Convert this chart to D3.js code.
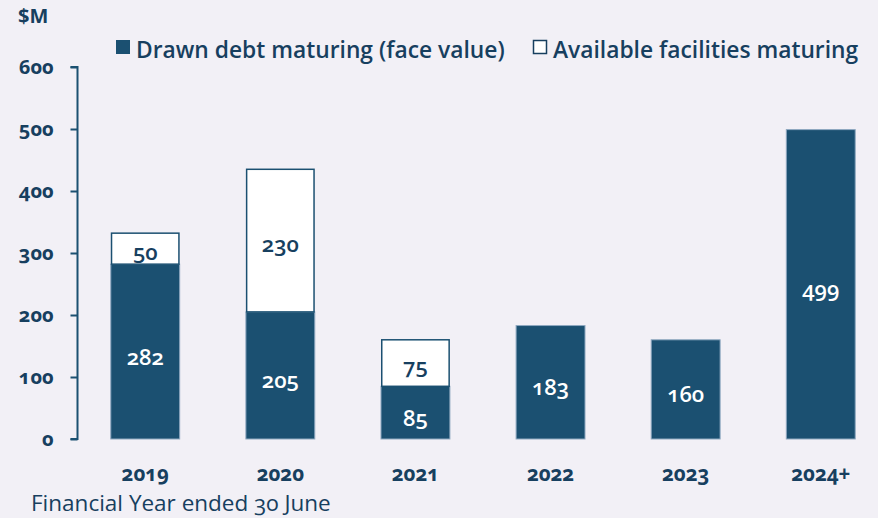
<!DOCTYPE html>
<html>
<head>
<meta charset="utf-8">
<script src="https://cdn.jsdelivr.net/npm/d3@7"></script>
<style>
  body { margin: 0; background: #f2f0f6; }
  svg { display: block; font-family: "Open Sans", sans-serif; font-variant-numeric: oldstyle-nums; }
</style>
</head>
<body>
<svg id="drawing_region"></svg>
<script>
const years = ["2019", "2020", "2021", "2022", "2023", "2024+"];
const drawn = [282, 205, 85, 183, 160, 499];
const available = [50, 230, 75, 0, 0, 0];
const yTicks = [0, 100, 200, 300, 400, 500, 600];
const seriesNames = ["Drawn debt maturing (face value)", "Available facilities maturing"];

const W = 878, H = 518;
const navy = "#173f5f", barColor = "#1b5071";

const svg = d3.select("#drawing_region").attr("width", W).attr("height", H);

const x = d3.scaleBand().domain(years).range([77, 889])
    .paddingInner(0.49).paddingOuter(0.25);
const y = d3.scaleLinear().domain([0, 600]).range([439, 67]);

// y axis
const yaxis = d3.axisLeft(y).tickValues(yTicks).tickSize(7).tickPadding(17);
const yg = svg.append("g").attr("transform", "translate(77.5,0)").call(yaxis);
yg.select(".domain").attr("stroke", barColor).attr("stroke-width", 2)
    .attr("d", `M-7,${y(600)}H0V${y(0)}H-7`);
yg.selectAll(".tick line").attr("stroke", barColor).attr("stroke-width", 2);
yg.selectAll(".tick text").attr("fill", navy).attr("font-size", 20)
    .attr("font-weight", 700).attr("font-family", "Open Sans, sans-serif");

svg.append("text").attr("x", 18).attr("y", 23).attr("fill", navy)
    .attr("font-size", 20).attr("font-weight", 700).text("$M");

// bars
const g = svg.append("g");
years.forEach((yr, i) => {
    const x0 = x(yr), bw = x.bandwidth();
    g.append("rect").attr("x", x0).attr("width", bw)
        .attr("y", y(drawn[i])).attr("height", y(0) - y(drawn[i]))
        .attr("fill", barColor).attr("stroke", "#8ea8c0").attr("stroke-width", 1);
    g.append("text").attr("x", x0 + bw / 2).attr("y", (y(drawn[i]) + y(0)) / 2 + 4)
        .attr("text-anchor", "middle").attr("dominant-baseline", "central")
        .attr("fill", "#fff").attr("font-size", 22).attr("font-weight", 600)
        .text(drawn[i]);
    if (available[i] > 0) {
        const top = drawn[i] + available[i];
        g.append("rect").attr("x", x0 + 0.75).attr("width", bw - 1.5)
            .attr("y", y(top)).attr("height", y(drawn[i]) - y(top))
            .attr("fill", "#fff").attr("stroke", barColor).attr("stroke-width", 1.5);
        g.append("text").attr("x", x0 + bw / 2).attr("y", (y(top) + y(drawn[i])) / 2 + 2)
            .attr("text-anchor", "middle").attr("dominant-baseline", "central")
            .attr("fill", navy).attr("font-size", 22).attr("font-weight", 600)
            .text(available[i]);
    }
});

// x labels
svg.append("g").selectAll("text").data(years).join("text")
    .attr("x", d => x(d) + x.bandwidth() / 2).attr("y", 481)
    .attr("text-anchor", "middle").attr("fill", navy)
    .attr("font-size", 20.5).attr("font-weight", 700).text(d => d);

svg.append("text").attr("x", 31).attr("y", 511).attr("fill", navy)
    .attr("font-size", 22.5).text("Financial Year ended 30 June");

// legend
const leg = svg.append("g");
leg.append("rect").attr("x", 116).attr("y", 40).attr("width", 14).attr("height", 14)
    .attr("fill", barColor);
leg.append("text").attr("x", 136).attr("y", 58).attr("fill", navy)
    .attr("font-size", 22.8).attr("font-weight", 600).text(seriesNames[0]);
leg.append("rect").attr("x", 533.5).attr("y", 40.5).attr("width", 13).attr("height", 13)
    .attr("fill", "#fff").attr("stroke", navy).attr("stroke-width", 1.5);
leg.append("text").attr("x", 553).attr("y", 58).attr("fill", navy)
    .attr("font-size", 22.8).attr("font-weight", 600).text(seriesNames[1]);
</script>
</body>
</html>
